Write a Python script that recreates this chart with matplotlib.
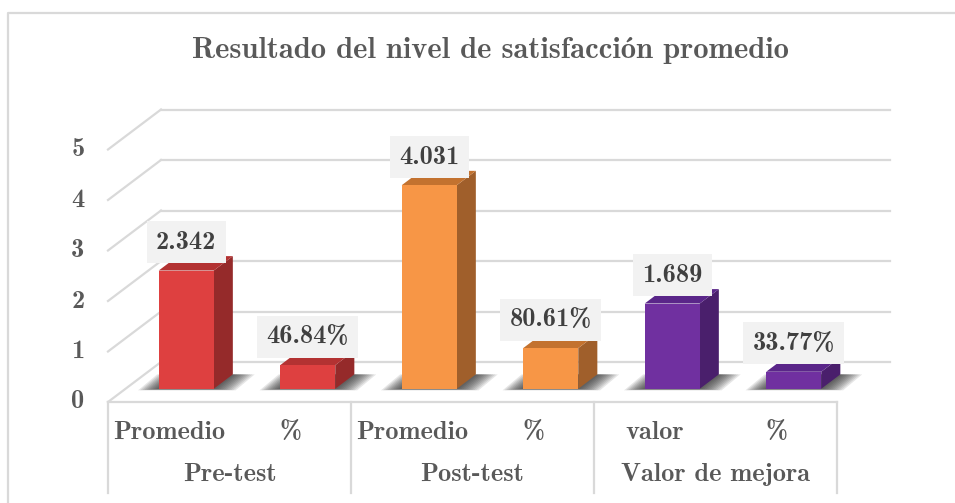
import matplotlib
matplotlib.use("Agg")
import matplotlib.pyplot as plt
from matplotlib.patches import Polygon
from matplotlib.lines import Line2D

# ---- data ----
title = "Resultado del nivel de satisfacción promedio"
groups = ["Pre-test", "Post-test", "Valor de mejora"]
sub_labels = ["Promedio", "%", "Promedio", "%", "valor", "%"]
values = [2.342, 0.4684, 4.031, 0.8061, 1.689, 0.3377]
value_labels = ["2.342", "46.84%", "4.031", "80.61%", "1.689", "33.77%"]
yticks = [0, 1, 2, 3, 4, 5]

# ---- styles ----
front_cols = ["#de4040", "#de4040", "#f79646", "#f79646", "#7030a0", "#7030a0"]
side_cols = ["#952a2a", "#952a2a", "#a05f2b", "#a05f2b", "#4a1f6c", "#4a1f6c"]
top_cols = ["#b33232", "#b33232", "#c3722f", "#c3722f", "#5a2689", "#5a2689"]
grid_col = "#d9d9d9"
FONT = ["Latin Modern Roman Demi", "DejaVu Serif"]

W, H = 955, 503
fig = plt.figure(figsize=(W / 100, H / 100), dpi=100)
ax = fig.add_axes([0, 0, 1, 1])
# data units: x in category slots, y in value units (front plane of floor)
x0px, slotpx, y0px, unitpx = 108, 121.5, 402, 50.5
ax.set_xlim(-x0px / slotpx, (W - x0px) / slotpx)
ax.set_ylim(-(H - y0px) / unitpx, y0px / unitpx)
ax.axis("off")

Dx, Dy = 53 / slotpx, 40 / unitpx        # full depth offset
f0, df = 0.33, 0.36                       # bar depth start / extent
bw = 0.453
n = len(values)

def px2x(p):
    return (p - x0px) / slotpx

def px2y(p):
    return (y0px - p) / unitpx

# chart border
ax.add_line(Line2D([px2x(8), px2x(8), px2x(W + 10)], [px2y(H + 10), px2y(13), px2y(13)],
                   color=grid_col, lw=1.6, clip_on=False))

# back wall gridlines and side wall diagonals
for v in yticks:
    ax.plot([Dx, n + Dx], [v + Dy, v + Dy], color=grid_col, lw=1.6, zorder=1)
    ax.plot([0, Dx], [v, v + Dy], color=grid_col, lw=1.6, zorder=1)
    ax.text(px2x(78), v, str(v), ha="center", va="center", fontsize=19,
            fontfamily=FONT, fontweight="bold", color="#595959")

# floor front edge / table lines
ax.plot([0, n], [0, 0], color=grid_col, lw=1.6, zorder=1)
for gx in range(0, n + 1, 2):
    ax.plot([gx, gx], [0, px2y(493)], color=grid_col, lw=1.6, zorder=1)

# bars
centers = [i + 0.5 for i in range(n)]
xl = [c - bw / 2 + f0 * Dx for c in centers]
yb = f0 * Dy
ddx, ddy = df * Dx, df * Dy

# shadows
for i in range(n):
    L = xl[i]
    R = xl[i] + bw
    layers = 10
    for k in range(layers):
        t = 1 - k / layers
        el, er = 0.17 * t, 0.18 * t
        ext_y = 0.03 * t
        poly = [(L - el, yb - ext_y), (R + er, yb - ext_y),
                (R + er + ddx, yb + ddy), (L - el + ddx, yb + ddy)]
        ax.add_patch(Polygon(poly, closed=True, facecolor="#202020",
                             edgecolor="none", alpha=0.11, zorder=2))

bars = ax.bar([x + bw / 2 for x in xl], values, width=bw, bottom=yb,
              color=front_cols, edgecolor="none", zorder=4)
for i, v in enumerate(values):
    L, R, top = xl[i], xl[i] + bw, yb + v
    ax.add_patch(Polygon([(R, yb), (R + ddx, yb + ddy), (R + ddx, top + ddy), (R, top)],
                         closed=True, facecolor=side_cols[i], edgecolor="none", zorder=3))
    ax.add_patch(Polygon([(L, top), (R, top), (R + ddx, top + ddy), (L + ddx, top + ddy)],
                         closed=True, facecolor=top_cols[i], edgecolor="none", zorder=3))
    ax.text(L + bw / 2, top + 0.56, value_labels[i], ha="center", va="center",
            fontsize=19, fontfamily=FONT, fontweight="bold", color="#404040", zorder=6,
            bbox=dict(boxstyle="square,pad=0.36", facecolor="#f2f2f2", edgecolor="none"))

# category labels
for i, s in enumerate(sub_labels):
    ax.text(centers[i], px2y(432), s, ha="center", va="center", fontsize=19,
            fontfamily=FONT, fontweight="bold", color="#595959")
for g, name in enumerate(groups):
    ax.text(2 * g + 1, px2y(474), name, ha="center", va="center", fontsize=19,
            fontfamily=FONT, fontweight="bold", color="#595959")

fig.text(490 / W, 1 - 50 / H, title, ha="center", va="center", fontsize=22,
         fontfamily=FONT, fontweight="bold", color="#595959")

fig.savefig("out.png", dpi=100, facecolor="white")
